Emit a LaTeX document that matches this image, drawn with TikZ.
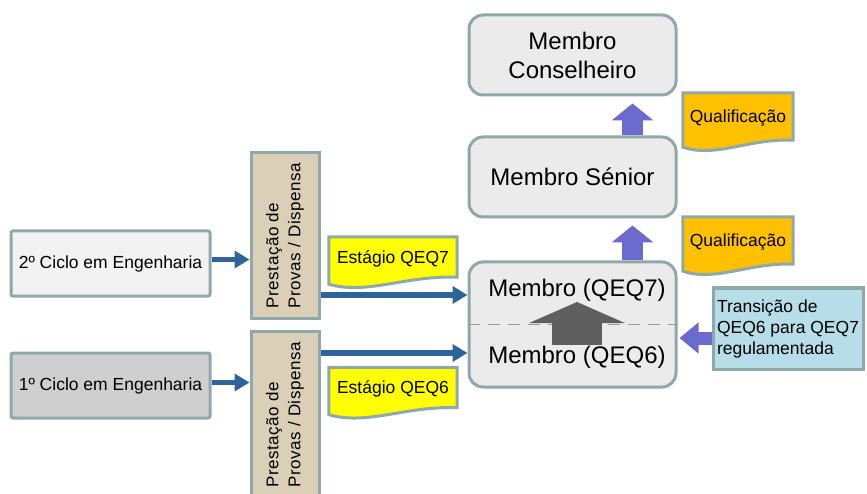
\documentclass[tikz,border=0pt]{standalone}
\usepackage{fontspec}
\setmainfont{Liberation Sans}
\newfontfamily\spacedfont[LetterSpace=3]{Liberation Sans}
\usetikzlibrary{arrows.meta,calc,backgrounds}
\definecolor{edge}{HTML}{8FA8AA}
\definecolor{ctwo}{HTML}{F2F2F2}
\definecolor{cone}{HTML}{CFCFCF}
\definecolor{tanfill}{HTML}{DCCFB7}
\definecolor{memfill}{HTML}{EBEBEB}
\definecolor{docyellow}{HTML}{FFFF00}
\definecolor{docorange}{HTML}{FFC000}
\definecolor{tfill}{HTML}{B7DEE8}
\definecolor{purp}{HTML}{6A6ACF}
\definecolor{bluearr}{HTML}{2F649A}
\definecolor{darkarr}{HTML}{5F5F5F}
\definecolor{dashgray}{HTML}{9A9A9A}
\newcommand\wavydoc[2]{%
  \begin{scope}[on background layer]
  \filldraw[draw=edge, line width=3pt, fill=#2]
    (#1.north west) -- (#1.north east) -- ($(#1.south east)+(0,-3)$)
    .. controls ($(#1.south west)!0.6!(#1.south east)+(0,-5)$) and ($(#1.south west)!0.3!(#1.south east)+(0,15)$) .. ($(#1.south west)+(0,4)$) -- cycle;
  \end{scope}}
\begin{document}
\begin{tikzpicture}[x=1pt,y=-1pt,
  basebox/.style={draw=edge, line width=3pt, align=center, inner sep=0pt, text=black},
  smalltext/.style={font=\fontsize{17.5}{21}\selectfont},
  bigtext/.style={font=\fontsize{24}{29}\selectfont},
  cyclebox/.style={basebox, smalltext, rounded corners=2pt, minimum width=199pt, minimum height=65pt},
  provabox/.style={basebox, fill=tanfill, minimum width=68pt, font=\spacedfont\fontsize{17}{22}\selectfont},
  memberbox/.style={basebox, bigtext, fill=memfill, rounded corners=14pt, minimum width=207pt},
  docnode/.style={smalltext, inner sep=0pt, align=center},
  bluearrow/.style={draw=bluearr, line width=5.5pt, -{Triangle[width=17pt,length=15pt]}},
  purparrow/.style={draw=purp, line width=21pt, -{Triangle[width=41pt,length=17pt]}},
  purparrowleft/.style={draw=purp, line width=13pt, -{Triangle[width=30pt,length=19pt]}},
  darkarrow/.style={draw=darkarr, line width=50pt, -{Triangle[width=95pt,length=21pt]}},
  dashline/.style={draw=dashgray, line width=1.8pt, dash pattern=on 12pt off 8pt}
]
\useasboundingbox (0,0) rectangle (867,494);

% left column
\node[cyclebox, fill=ctwo] (c2) at (110.5,263.5) {2º Ciclo em Engenharia};
\node[cyclebox, fill=cone] (c1) at (110.5,385.5) {1º Ciclo em Engenharia};

% prestacao boxes
\node[provabox, minimum height=165pt] (p2) at (285,235.5)
  {\rotatebox{90}{\begin{tabular}{@{}l@{}}Prestação de\\Provas / Dispensa\end{tabular}}};
\node[provabox, minimum height=168pt] (p1) at (285,415)
  {\rotatebox{90}{\begin{tabular}{@{}l@{}}Prestação de\\Provas / Dispensa\end{tabular}}};

% stage documents
\node[docnode, minimum width=128pt, minimum height=43pt] (e7) at (393,258.5) {Estágio QEQ7};
\node[docnode, minimum width=128pt, minimum height=43pt] (e6) at (393,389) {Estágio QEQ6};
\wavydoc{e7}{docyellow}
\wavydoc{e6}{docyellow}

% member boxes
\node[memberbox, minimum height=125pt] (m) at (572.5,324.5) {};
\node[memberbox, minimum height=80pt] (s) at (572.5,177) {Membro Sénior};
\node[memberbox, minimum height=80pt] (c) at (572.5,55) {Membro\\Conselheiro};

\draw[dashline] (m.west) -- (m.east);
\draw[darkarrow] ($(m.center)+(4.5,20.5)$) -- ($(m.center)+(4.5,-22.5)$);
\node[bigtext, inner sep=0pt] (m7) at ($(m.center)+(4.5,-34.5)$) {Membro (QEQ7)};
\node[bigtext, inner sep=0pt] (m6) at ($(m.center)+(4.5,32.5)$) {Membro (QEQ6)};

% qualification documents
\node[docnode, minimum width=110pt, minimum height=50pt] (q1) at (738,118) {Qualificação};
\node[docnode, minimum width=110pt, minimum height=50pt] (q2) at (738,242) {Qualificação};
\wavydoc{q1}{docorange}
\wavydoc{q2}{docorange}

% transition box
\node[basebox, smalltext, fill=tfill, minimum width=150pt, minimum height=81pt, align=left] (t) at (788,328.5)
  {Transição de\\QEQ6 para QEQ7\\regulamentada};

% arrows
\draw[bluearrow] ($(c2.east)+(0,-4)$) -- ($(c2.east -| p2.west)+(0,-4)$);
\draw[bluearrow] ($(c1.east)+(0,-3)$) -- ($(c1.east -| p1.west)+(0,-3)$);
\path ($(m.west)+(0,-29.5)$) coordinate (in7);
\path ($(m.west)+(0,28.5)$) coordinate (in6);
\draw[bluearrow] (p2.east |- in7) -- (in7);
\draw[bluearrow] (p1.east |- in6) -- (in6);

\draw[purparrow] ($(s.north)+(60,0)$) -- ($(c.south)+(60,7)$);
\draw[purparrow] ($(m.north)+(60,0)$) -- ($(s.south)+(60,7)$);
\draw[purparrowleft] ($(t.west)+(0,9.5)$) -- ($(m.east)+(2,13.5)$);
\end{tikzpicture}
\end{document}
